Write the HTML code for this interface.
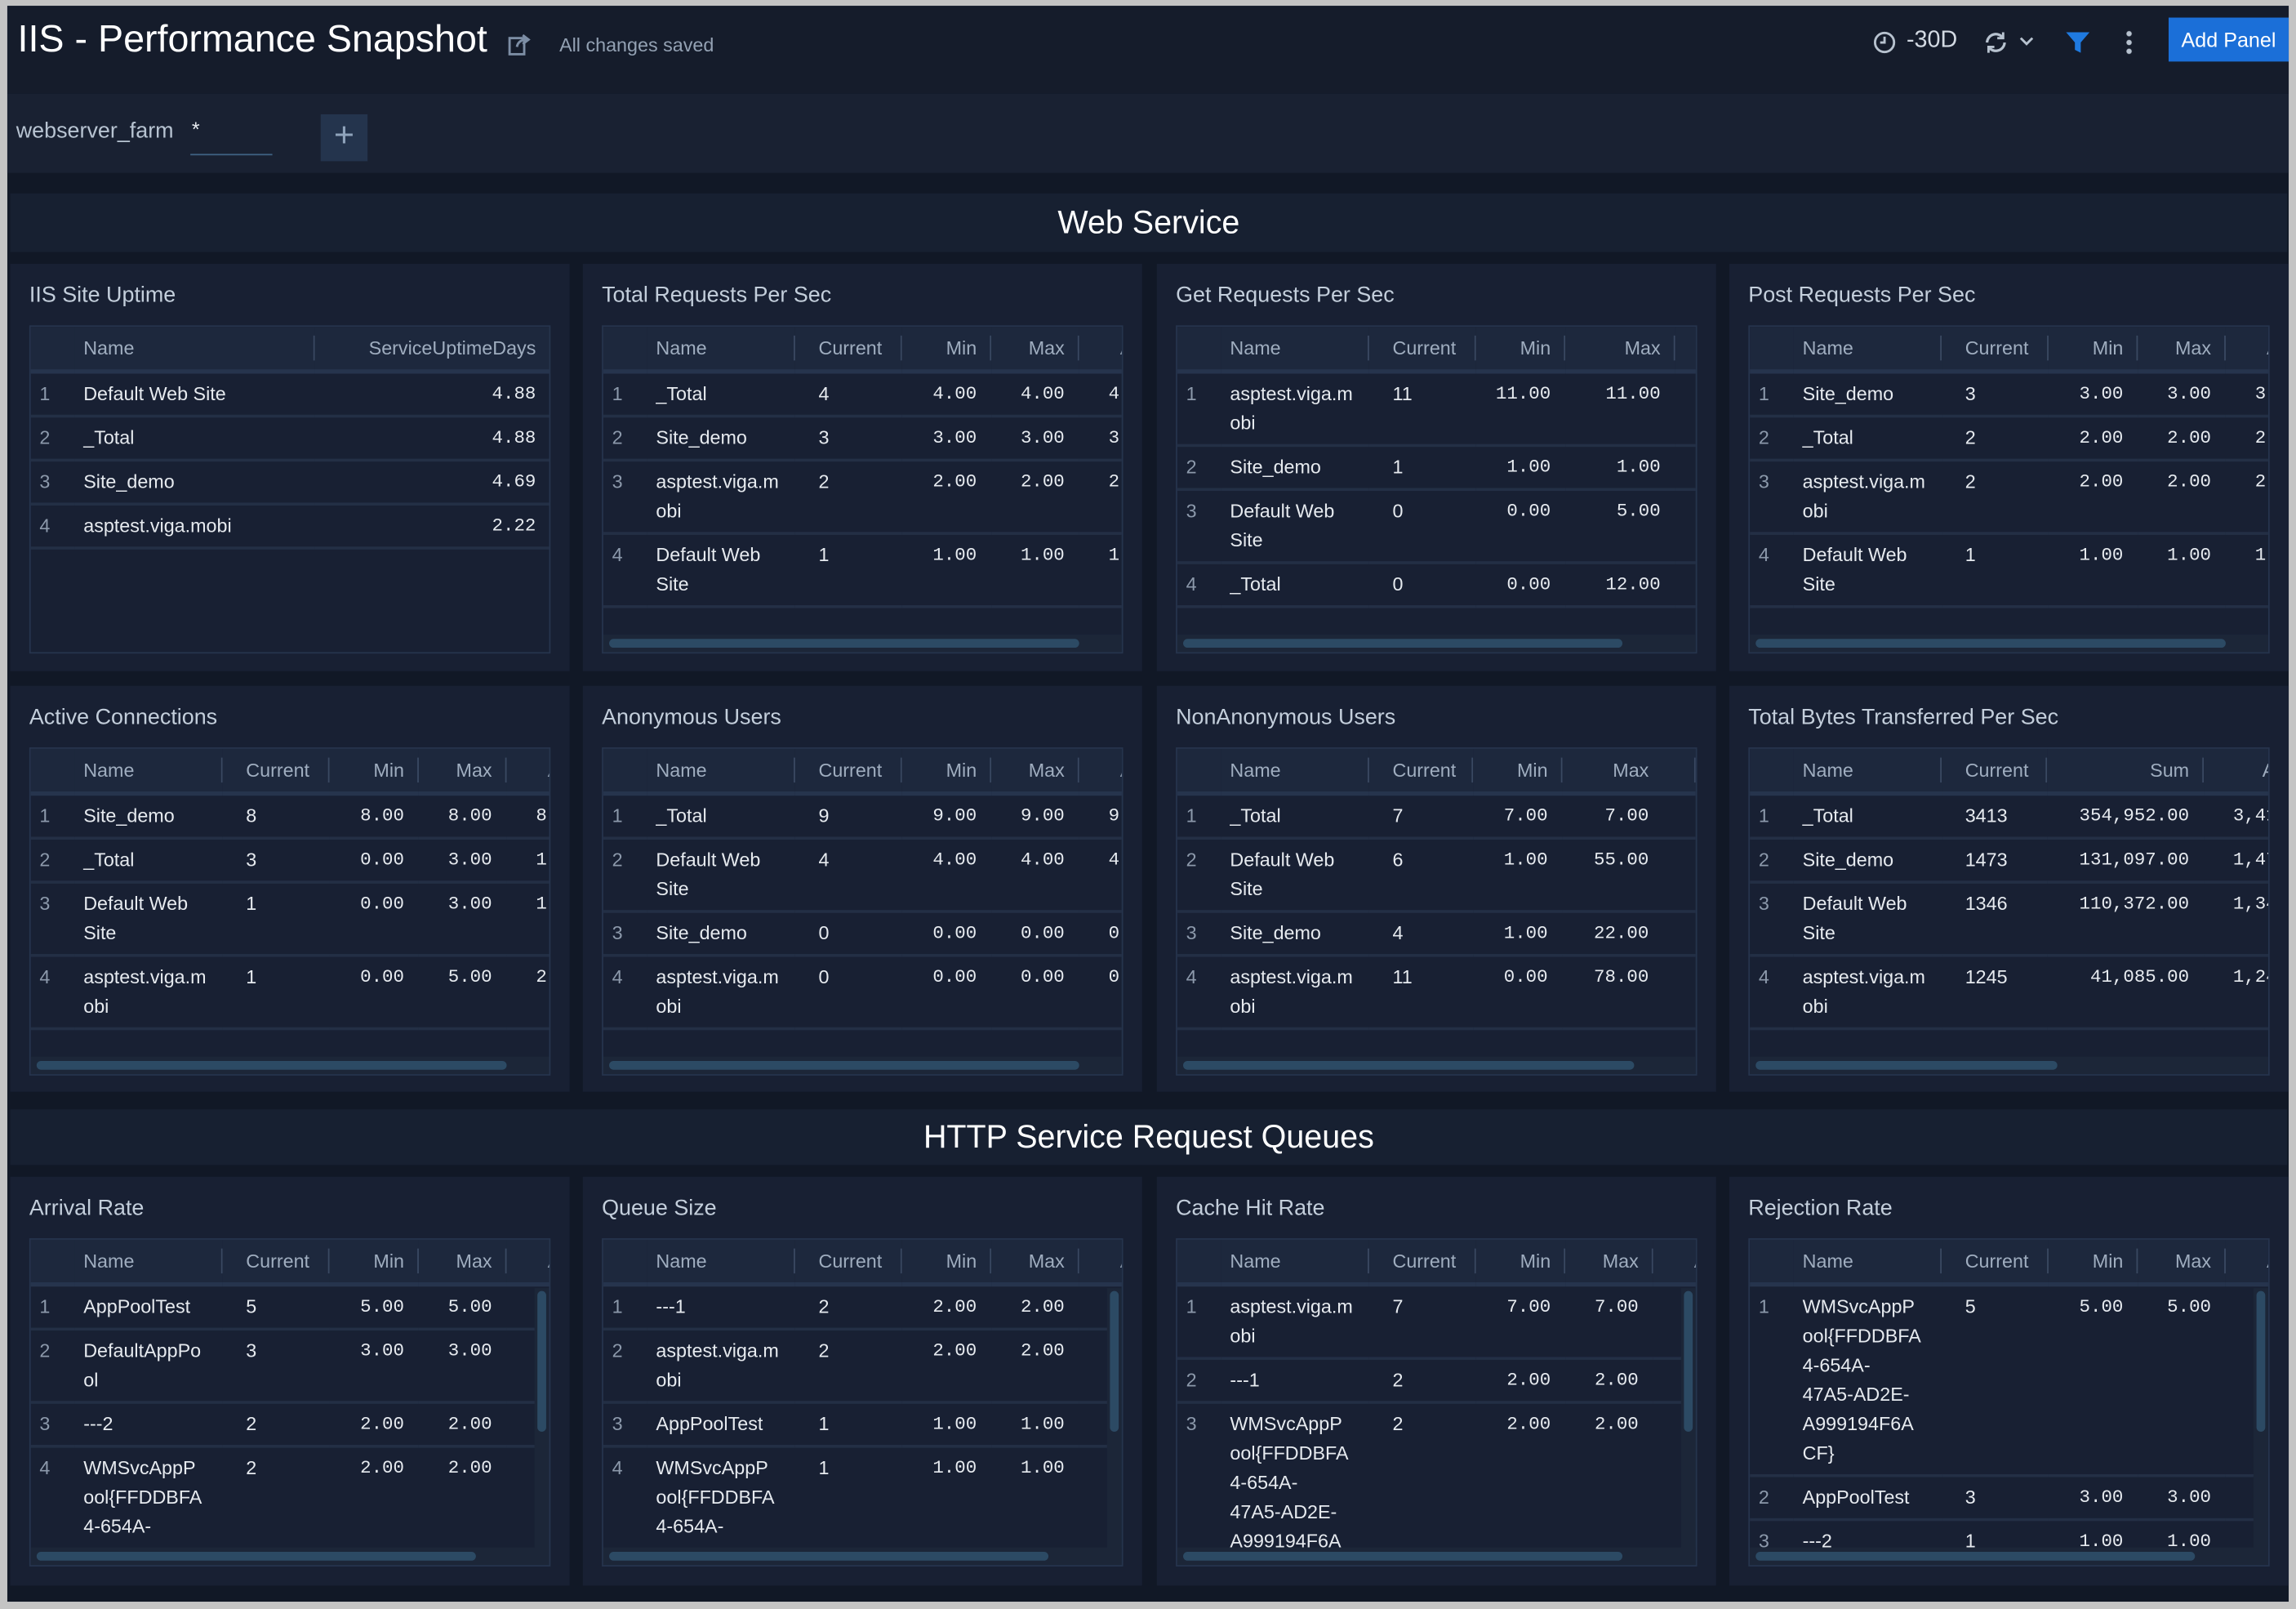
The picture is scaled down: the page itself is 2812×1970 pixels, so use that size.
<!DOCTYPE html>
<html><head><meta charset="utf-8"><style>
*{box-sizing:border-box;margin:0;padding:0}
html,body{width:2812px;height:1970px;overflow:hidden;background:#c4c4c4}
#w{position:absolute;left:0;top:0;width:1568px;height:1098px;transform:scale(1.79337,1.79417);transform-origin:0 0;font-family:"Liberation Sans",sans-serif}
#page{position:absolute;left:5px;top:4px;width:1558px;height:1089px;background:#111826}
.a{position:absolute}
.hdr{left:0;top:0;width:1558px;height:60px;background:#151c2b}
.fb{left:0;top:60px;width:1558px;height:54px;background:#192132}
.sec{left:2px;width:1555px;background:#172031;color:#fff;font-size:22px;text-align:center}
.p{position:absolute;width:382px;background:#182033}
.pt{position:absolute;left:13px;top:13px;font-size:15px;color:#c3cedb}
.tw{position:absolute;left:13px;top:42px;width:356px;height:224px;border:1px solid #26344d;overflow:hidden;background:#182033}
table{border-collapse:collapse;table-layout:fixed;font-size:13px;color:#e6eaef}
th{height:30px;background:#1d283d;color:#9fadbf;font-weight:normal;text-align:left;position:relative;border-bottom:3px solid #26344d}
th.s::after{content:'';position:absolute;right:0;top:6px;bottom:6px;width:1px;background:#3a4962}
td{vertical-align:top;padding-top:4px;padding-bottom:4px;line-height:20px;border-bottom:2px solid #232f45;white-space:nowrap}
td.i{color:#8c99ab;padding-left:6px}
td.n,th.n{padding-left:6px}
td.c,th.c{padding-left:16px}
td.m,th.m{text-align:right;padding-right:10px}
td.m{font-family:"Liberation Mono",monospace;font-size:12.5px}
td.x{padding-left:20px}
th.x{padding-left:28px}
td.x{font-family:"Liberation Mono",monospace;font-size:12.5px}
tr{height:30px}
.hs{position:absolute;left:0;bottom:0;width:356px;height:12px;background:#1c2638}
.hs i{position:absolute;left:4px;top:3px;height:6px;border-radius:3px;background:#2c4a64}
.vs{position:absolute;right:0;top:33px;width:10px;height:180px;background:#1c2638}
.vs i{position:absolute;left:2px;top:2px;width:6px;height:96px;border-radius:3px;background:#2c4a64}
</style></head><body><div id="w"><div id="page">
<div class="a hdr">
 <div class="a" style="left:7px;top:7px;font-size:26px;color:#fff">IIS - Performance Snapshot</div>
 <svg class="a" style="left:341px;top:17px" width="18" height="18" viewBox="0 0 18 18"><rect x="2" y="5" width="10" height="11" fill="none" stroke="#7d8ea5" stroke-width="1.6"/><path d="M7 11 Q8 6 14 6 M11 3 L15 6 L11 9" fill="none" stroke="#7d8ea5" stroke-width="1.6"/></svg>
 <div class="a" style="left:377px;top:19px;font-size:13px;color:#93a1b3">All changes saved</div>
 <svg class="a" style="left:1274px;top:17px" width="16" height="16"><circle cx="8" cy="8" r="6.5" fill="none" stroke="#b7c2cf" stroke-width="1.6"/><path d="M8 4V8H5" stroke="#b7c2cf" stroke-width="1.6" fill="none"/></svg>
 <div class="a" style="left:1297px;top:15px;font-size:16px;color:#d3dae3">-30D</div>
 <svg class="a" style="left:1349px;top:16px" width="40" height="18"><path d="M3 9a6 6 0 0 1 11-3M15 9a6 6 0 0 1-11 3" fill="none" stroke="#b7c2cf" stroke-width="1.8"/><path d="M14 2v4h-4M4 16v-4h4" fill="none" stroke="#b7c2cf" stroke-width="1.6"/><path d="M26 6l4 4 4-4" fill="none" stroke="#b7c2cf" stroke-width="1.6"/></svg>
 <svg class="a" style="left:1405px;top:16px" width="18" height="18"><path d="M1 2H17L11 9V16L7 14V9Z" fill="#1f7ae0"/></svg>
 <div class="a" style="left:1447px;top:16px;width:4px;height:18px;background:radial-gradient(circle,#b7c2cf 1.6px,transparent 2px) 0 0/4px 6px"></div>
 <div class="a" style="left:1476px;top:8px;width:82px;height:30px;background:#1b6fd8;color:#fff;font-size:14px;text-align:center;line-height:30px">Add Panel</div>
</div>
<div class="a fb">
 <div class="a" style="left:6px;top:17px;font-size:15px;color:#b7c3d1">webserver_farm</div>
 <div class="a" style="left:126px;top:16px;font-size:14px;color:#e6eaef">*</div>
 <div class="a" style="left:125px;top:41px;width:56px;height:1px;background:#3f6283"></div>
 <div class="a" style="left:214px;top:14px;width:32px;height:32px;background:#24344d;color:#8fa3bb;font-size:24px;text-align:center;line-height:30px">+</div>
</div>
<div class="a sec" style="top:128px;height:40px;line-height:40px">Web Service</div>
<div class="a sec" style="top:753px;height:38px;line-height:38px">HTTP Service Request Queues</div>

<!-- Row 1 -->
<div class="p" style="left:2px;top:176px;height:278px"><div class="pt">IIS Site Uptime</div>
<div class="tw"><table style="width:355px"><colgroup><col style="width:30px"><col style="width:164px"><col style="width:161px"></colgroup>
<tr><th></th><th class="n s">Name</th><th class="m">ServiceUptimeDays</th></tr>
<tr><td class="i">1</td><td class="n">Default Web Site</td><td class="m">4.88</td></tr>
<tr><td class="i">2</td><td class="n">_Total</td><td class="m">4.88</td></tr>
<tr><td class="i">3</td><td class="n">Site_demo</td><td class="m">4.69</td></tr>
<tr><td class="i">4</td><td class="n">asptest.viga.mobi</td><td class="m">2.22</td></tr>
</table></div></div>

<div class="p" style="left:393px;top:176px;height:278px"><div class="pt">Total Requests Per Sec</div>
<div class="tw"><table style="width:400px"><colgroup><col style="width:30px"><col style="width:101px"><col style="width:73px"><col style="width:61px"><col style="width:60px"><col style="width:75px"></colgroup>
<tr><th></th><th class="n s">Name</th><th class="c s">Current</th><th class="m s">Min</th><th class="m s">Max</th><th class="x">A</th></tr>
<tr><td class="i">1</td><td class="n">_Total</td><td class="c">4</td><td class="m">4.00</td><td class="m">4.00</td><td class="x">4.00</td></tr>
<tr><td class="i">2</td><td class="n">Site_demo</td><td class="c">3</td><td class="m">3.00</td><td class="m">3.00</td><td class="x">3.00</td></tr>
<tr><td class="i">3</td><td class="n">asptest.viga.m<br>obi</td><td class="c">2</td><td class="m">2.00</td><td class="m">2.00</td><td class="x">2.00</td></tr>
<tr><td class="i">4</td><td class="n">Default Web<br>Site</td><td class="c">1</td><td class="m">1.00</td><td class="m">1.00</td><td class="x">1.00</td></tr>
</table><div class="hs"><i style="width:321px"></i></div></div></div>

<div class="p" style="left:785px;top:176px;height:278px"><div class="pt">Get Requests Per Sec</div>
<div class="tw"><table style="width:400px"><colgroup><col style="width:30px"><col style="width:101px"><col style="width:73px"><col style="width:61px"><col style="width:75px"><col style="width:60px"></colgroup>
<tr><th></th><th class="n s">Name</th><th class="c s">Current</th><th class="m s">Min</th><th class="m s">Max</th><th class="x">A</th></tr>
<tr><td class="i">1</td><td class="n">asptest.viga.m<br>obi</td><td class="c">11</td><td class="m">11.00</td><td class="m">11.00</td><td class="x"></td></tr>
<tr><td class="i">2</td><td class="n">Site_demo</td><td class="c">1</td><td class="m">1.00</td><td class="m">1.00</td><td class="x"></td></tr>
<tr><td class="i">3</td><td class="n">Default Web<br>Site</td><td class="c">0</td><td class="m">0.00</td><td class="m">5.00</td><td class="x"></td></tr>
<tr><td class="i">4</td><td class="n">_Total</td><td class="c">0</td><td class="m">0.00</td><td class="m">12.00</td><td class="x"></td></tr>
</table><div class="hs"><i style="width:300px"></i></div></div></div>

<div class="p" style="left:1176px;top:176px;height:278px"><div class="pt">Post Requests Per Sec</div>
<div class="tw"><table style="width:400px"><colgroup><col style="width:30px"><col style="width:101px"><col style="width:73px"><col style="width:61px"><col style="width:60px"><col style="width:75px"></colgroup>
<tr><th></th><th class="n s">Name</th><th class="c s">Current</th><th class="m s">Min</th><th class="m s">Max</th><th class="x">A</th></tr>
<tr><td class="i">1</td><td class="n">Site_demo</td><td class="c">3</td><td class="m">3.00</td><td class="m">3.00</td><td class="x">3.00</td></tr>
<tr><td class="i">2</td><td class="n">_Total</td><td class="c">2</td><td class="m">2.00</td><td class="m">2.00</td><td class="x">2.00</td></tr>
<tr><td class="i">3</td><td class="n">asptest.viga.m<br>obi</td><td class="c">2</td><td class="m">2.00</td><td class="m">2.00</td><td class="x">2.00</td></tr>
<tr><td class="i">4</td><td class="n">Default Web<br>Site</td><td class="c">1</td><td class="m">1.00</td><td class="m">1.00</td><td class="x">1.00</td></tr>
</table><div class="hs"><i style="width:321px"></i></div></div></div>

<!-- Row 2 -->
<div class="p" style="left:2px;top:464px;height:277px"><div class="pt">Active Connections</div>
<div class="tw"><table style="width:400px"><colgroup><col style="width:30px"><col style="width:101px"><col style="width:73px"><col style="width:61px"><col style="width:60px"><col style="width:75px"></colgroup>
<tr><th></th><th class="n s">Name</th><th class="c s">Current</th><th class="m s">Min</th><th class="m s">Max</th><th class="x">A</th></tr>
<tr><td class="i">1</td><td class="n">Site_demo</td><td class="c">8</td><td class="m">8.00</td><td class="m">8.00</td><td class="x">8.00</td></tr>
<tr><td class="i">2</td><td class="n">_Total</td><td class="c">3</td><td class="m">0.00</td><td class="m">3.00</td><td class="x">1.00</td></tr>
<tr><td class="i">3</td><td class="n">Default Web<br>Site</td><td class="c">1</td><td class="m">0.00</td><td class="m">3.00</td><td class="x">1.00</td></tr>
<tr><td class="i">4</td><td class="n">asptest.viga.m<br>obi</td><td class="c">1</td><td class="m">0.00</td><td class="m">5.00</td><td class="x">2.00</td></tr>
</table><div class="hs"><i style="width:321px"></i></div></div></div>

<div class="p" style="left:393px;top:464px;height:277px"><div class="pt">Anonymous Users</div>
<div class="tw"><table style="width:400px"><colgroup><col style="width:30px"><col style="width:101px"><col style="width:73px"><col style="width:61px"><col style="width:60px"><col style="width:75px"></colgroup>
<tr><th></th><th class="n s">Name</th><th class="c s">Current</th><th class="m s">Min</th><th class="m s">Max</th><th class="x">A</th></tr>
<tr><td class="i">1</td><td class="n">_Total</td><td class="c">9</td><td class="m">9.00</td><td class="m">9.00</td><td class="x">9.00</td></tr>
<tr><td class="i">2</td><td class="n">Default Web<br>Site</td><td class="c">4</td><td class="m">4.00</td><td class="m">4.00</td><td class="x">4.00</td></tr>
<tr><td class="i">3</td><td class="n">Site_demo</td><td class="c">0</td><td class="m">0.00</td><td class="m">0.00</td><td class="x">0.00</td></tr>
<tr><td class="i">4</td><td class="n">asptest.viga.m<br>obi</td><td class="c">0</td><td class="m">0.00</td><td class="m">0.00</td><td class="x">0.00</td></tr>
</table><div class="hs"><i style="width:321px"></i></div></div></div>

<div class="p" style="left:785px;top:464px;height:277px"><div class="pt">NonAnonymous Users</div>
<div class="tw"><table style="width:420px"><colgroup><col style="width:30px"><col style="width:101px"><col style="width:71px"><col style="width:61px"><col style="width:91px"><col style="width:66px"></colgroup>
<tr><th></th><th class="n s">Name</th><th class="c s">Current</th><th class="m s">Min</th><th class="m s" style="padding-right:32px">Max</th><th class="x">A</th></tr>
<tr><td class="i">1</td><td class="n">_Total</td><td class="c">7</td><td class="m">7.00</td><td class="m" style="padding-right:32px">7.00</td><td class="x">7</td></tr>
<tr><td class="i">2</td><td class="n">Default Web<br>Site</td><td class="c">6</td><td class="m">1.00</td><td class="m" style="padding-right:32px">55.00</td><td class="x">2</td></tr>
<tr><td class="i">3</td><td class="n">Site_demo</td><td class="c">4</td><td class="m">1.00</td><td class="m" style="padding-right:32px">22.00</td><td class="x">1</td></tr>
<tr><td class="i">4</td><td class="n">asptest.viga.m<br>obi</td><td class="c">11</td><td class="m">0.00</td><td class="m" style="padding-right:32px">78.00</td><td class="x">2</td></tr>
</table><div class="hs"><i style="width:308px"></i></div></div></div>

<div class="p" style="left:1176px;top:464px;height:277px"><div class="pt">Total Bytes Transferred Per Sec</div>
<div class="tw"><table style="width:420px"><colgroup><col style="width:30px"><col style="width:101px"><col style="width:72px"><col style="width:107px"><col style="width:110px"></colgroup>
<tr><th></th><th class="n s">Name</th><th class="c s">Current</th><th class="m s">Sum</th><th class="x" style="padding-left:40px">A</th></tr>
<tr><td class="i">1</td><td class="n">_Total</td><td class="c">3413</td><td class="m">354,952.00</td><td class="x">3,413.00</td></tr>
<tr><td class="i">2</td><td class="n">Site_demo</td><td class="c">1473</td><td class="m">131,097.00</td><td class="x">1,473.00</td></tr>
<tr><td class="i">3</td><td class="n">Default Web<br>Site</td><td class="c">1346</td><td class="m">110,372.00</td><td class="x">1,346.00</td></tr>
<tr><td class="i">4</td><td class="n">asptest.viga.m<br>obi</td><td class="c">1245</td><td class="m">41,085.00</td><td class="x">1,245.00</td></tr>
</table><div class="hs"><i style="width:206px"></i></div></div></div>

<!-- Row 3 -->
<div class="p" style="left:2px;top:799px;height:279px"><div class="pt">Arrival Rate</div>
<div class="tw"><table style="width:400px"><colgroup><col style="width:30px"><col style="width:101px"><col style="width:73px"><col style="width:61px"><col style="width:60px"><col style="width:75px"></colgroup>
<tr><th></th><th class="n s">Name</th><th class="c s">Current</th><th class="m s">Min</th><th class="m s">Max</th><th class="x">A</th></tr>
<tr><td class="i">1</td><td class="n">AppPoolTest</td><td class="c">5</td><td class="m">5.00</td><td class="m">5.00</td><td class="x"></td></tr>
<tr><td class="i">2</td><td class="n">DefaultAppPo<br>ol</td><td class="c">3</td><td class="m">3.00</td><td class="m">3.00</td><td class="x"></td></tr>
<tr><td class="i">3</td><td class="n">---2</td><td class="c">2</td><td class="m">2.00</td><td class="m">2.00</td><td class="x"></td></tr>
<tr><td class="i">4</td><td class="n">WMSvcAppP<br>ool{FFDDBFA<br>4-654A-<br>47A5-AD2E-</td><td class="c">2</td><td class="m">2.00</td><td class="m">2.00</td><td class="x"></td></tr>
</table><div class="vs"><i></i></div><div class="hs"><i style="width:300px"></i></div></div></div>

<div class="p" style="left:393px;top:799px;height:279px"><div class="pt">Queue Size</div>
<div class="tw"><table style="width:400px"><colgroup><col style="width:30px"><col style="width:101px"><col style="width:73px"><col style="width:61px"><col style="width:60px"><col style="width:75px"></colgroup>
<tr><th></th><th class="n s">Name</th><th class="c s">Current</th><th class="m s">Min</th><th class="m s">Max</th><th class="x">A</th></tr>
<tr><td class="i">1</td><td class="n">---1</td><td class="c">2</td><td class="m">2.00</td><td class="m">2.00</td><td class="x"></td></tr>
<tr><td class="i">2</td><td class="n">asptest.viga.m<br>obi</td><td class="c">2</td><td class="m">2.00</td><td class="m">2.00</td><td class="x"></td></tr>
<tr><td class="i">3</td><td class="n">AppPoolTest</td><td class="c">1</td><td class="m">1.00</td><td class="m">1.00</td><td class="x"></td></tr>
<tr><td class="i">4</td><td class="n">WMSvcAppP<br>ool{FFDDBFA<br>4-654A-<br>47A5-AD2E-</td><td class="c">1</td><td class="m">1.00</td><td class="m">1.00</td><td class="x"></td></tr>
</table><div class="vs"><i></i></div><div class="hs"><i style="width:300px"></i></div></div></div>

<div class="p" style="left:785px;top:799px;height:279px"><div class="pt">Cache Hit Rate</div>
<div class="tw"><table style="width:400px"><colgroup><col style="width:30px"><col style="width:101px"><col style="width:73px"><col style="width:61px"><col style="width:60px"><col style="width:75px"></colgroup>
<tr><th></th><th class="n s">Name</th><th class="c s">Current</th><th class="m s">Min</th><th class="m s">Max</th><th class="x">A</th></tr>
<tr><td class="i">1</td><td class="n">asptest.viga.m<br>obi</td><td class="c">7</td><td class="m">7.00</td><td class="m">7.00</td><td class="x"></td></tr>
<tr><td class="i">2</td><td class="n">---1</td><td class="c">2</td><td class="m">2.00</td><td class="m">2.00</td><td class="x"></td></tr>
<tr><td class="i">3</td><td class="n">WMSvcAppP<br>ool{FFDDBFA<br>4-654A-<br>47A5-AD2E-<br>A999194F6A</td><td class="c">2</td><td class="m">2.00</td><td class="m">2.00</td><td class="x"></td></tr>
</table><div class="vs"><i></i></div><div class="hs"><i style="width:300px"></i></div></div></div>

<div class="p" style="left:1176px;top:799px;height:279px"><div class="pt">Rejection Rate</div>
<div class="tw"><table style="width:400px"><colgroup><col style="width:30px"><col style="width:101px"><col style="width:73px"><col style="width:61px"><col style="width:60px"><col style="width:75px"></colgroup>
<tr><th></th><th class="n s">Name</th><th class="c s">Current</th><th class="m s">Min</th><th class="m s">Max</th><th class="x">A</th></tr>
<tr><td class="i">1</td><td class="n">WMSvcAppP<br>ool{FFDDBFA<br>4-654A-<br>47A5-AD2E-<br>A999194F6A<br>CF}</td><td class="c">5</td><td class="m">5.00</td><td class="m">5.00</td><td class="x"></td></tr>
<tr><td class="i">2</td><td class="n">AppPoolTest</td><td class="c">3</td><td class="m">3.00</td><td class="m">3.00</td><td class="x"></td></tr>
<tr><td class="i">3</td><td class="n">---2</td><td class="c">1</td><td class="m">1.00</td><td class="m">1.00</td><td class="x"></td></tr>
</table><div class="vs"><i></i></div><div class="hs"><i style="width:300px"></i></div></div></div>

</div></div></body></html>
